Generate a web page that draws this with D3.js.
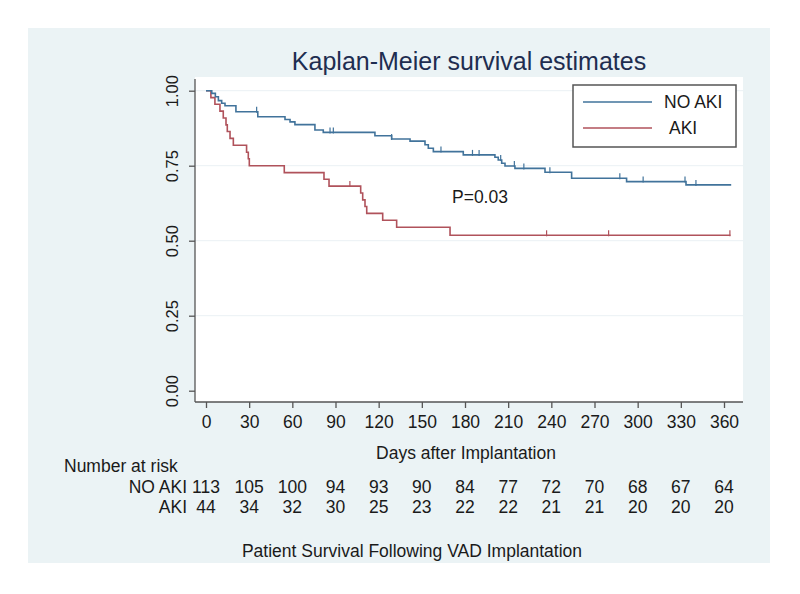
<!DOCTYPE html>
<html><head><meta charset="utf-8">
<script src="https://cdn.jsdelivr.net/npm/d3@7"></script>
<style>
html,body{margin:0;padding:0;background:#fff;}
svg{display:block;font-family:"Liberation Sans",Arial,Helvetica,sans-serif;}
</style></head><body>
<svg id="chart" width="800" height="594"></svg>
<script>
// ---- data ----
const xTicks = [0,30,60,90,120,150,180,210,240,270,300,330,360];
const yTicks = [0,0.25,0.5,0.75,1];
const yTickLabels = ["0.00","0.25","0.50","0.75","1.00"];
const seriesNames = ["NO AKI","AKI"];
// NO AKI step curve: [day, survival]
const noAkiDays = [0,4,6.5,8.6,10.9,13.2,20.8,36,54.9,58.4,61.8,75.7,81.5,117.4,129,141.8,152.2,154.5,158,178.8,200.8,203.1,205.5,207.8,214.7,235.6,254.1,292.3,333.6,365];
const noAkiSurv = [1,0.991,0.980,0.967,0.958,0.950,0.930,0.913,0.904,0.896,0.887,0.869,0.861,0.850,0.839,0.832,0.820,0.808,0.797,0.786,0.778,0.769,0.758,0.749,0.741,0.728,0.708,0.697,0.686,0.686];
const noAkiCensor = [35.2,86.2,88.5,129,163.3,185.2,189.8,204.8,214.3,220.9,239,287.6,303.8,332.9,340.5];
// AKI step curve
const akiDays = [0,3.4,6.2,9.7,12,13.9,14.8,16.7,19,28.2,29.4,30.1,54.4,82,85.5,107.5,108.9,110.5,111.7,122.8,132.5,169.6,364.5];
const akiSurv = [1,0.977,0.955,0.932,0.909,0.886,0.864,0.841,0.818,0.795,0.773,0.750,0.727,0.705,0.682,0.659,0.636,0.614,0.591,0.568,0.545,0.518,0.518];
const akiCensor = [100,236.7,279.8,364.1];
// number at risk
const riskNoAki = [113,105,100,94,93,90,84,77,72,70,68,67,64];
const riskAki = [44,34,32,30,25,23,22,22,21,21,20,20,20];

// ---- drawing ----
const svg = d3.select("#chart");
const blue = "#41739b", red = "#b0525b", axisCol = "#555", txt = "#1a1a1a";
const fs = "17.5px";

svg.append("rect").attr("x",28).attr("y",28).attr("width",742).attr("height",535).attr("fill","#ebf3f5");

const x = d3.scaleLinear().domain([0,360]).range([206,724]);
const y = d3.scaleLinear().domain([0,1]).range([390.7,90.7]);
const plotL = 195, plotR = 743, plotT = 77, plotB = 402;

svg.append("rect").attr("x",plotL).attr("y",plotT).attr("width",plotR-plotL).attr("height",plotB-plotT).attr("fill","#fff");

// grid
svg.append("g").selectAll("line").data(yTicks.filter(d=>d>0)).join("line")
  .attr("x1",plotL).attr("x2",plotR).attr("y1",d=>y(d)).attr("y2",d=>y(d))
  .attr("stroke","#eaf1f4").attr("stroke-width",1);

// axes
const yAxis = d3.axisLeft(y).tickValues(yTicks).tickFormat((d,i)=>yTickLabels[i]).tickSize(6).tickSizeOuter(0);
const gy = svg.append("g").attr("transform",`translate(${plotL},0)`).call(yAxis);
gy.select(".domain").remove();
gy.append("line").attr("x1",0).attr("x2",0).attr("y1",plotT+2).attr("y2",plotB).attr("stroke",axisCol).attr("stroke-width",1.3);
gy.selectAll(".tick line").attr("stroke",axisCol).attr("stroke-width",1.3);
gy.selectAll(".tick text").attr("fill",txt).style("font-size","16.5px")
  .attr("x",0).attr("text-anchor","middle")
  .attr("transform","translate(-23,0) rotate(-90)").attr("dy","0.35em");

const xAxis = d3.axisBottom(x).tickValues(xTicks).tickSize(6).tickSizeOuter(0);
const gx = svg.append("g").attr("transform",`translate(0,${plotB})`).call(xAxis);
gx.select(".domain").remove();
gx.append("line").attr("x1",plotL).attr("x2",plotR).attr("y1",0).attr("y2",0).attr("stroke",axisCol).attr("stroke-width",1.3);
gx.selectAll(".tick line").attr("stroke",axisCol).attr("stroke-width",1.3);
gx.selectAll(".tick text").attr("fill",txt).style("font-size",fs).attr("y",14);

// curves
const line = d3.line().x(d=>x(d[0])).y(d=>y(d[1])).curve(d3.curveStepAfter);
const noAki = noAkiDays.map((d,i)=>[d,noAkiSurv[i]]);
const aki = akiDays.map((d,i)=>[d,akiSurv[i]]);
function survAt(days,surv,t){let s=surv[0];for(let i=0;i<days.length;i++){if(days[i]<=t)s=surv[i];}return s;}

svg.append("path").datum(aki).attr("d",line).attr("fill","none").attr("stroke",red).attr("stroke-width",1.6);
svg.append("path").datum(noAki).attr("d",line).attr("fill","none").attr("stroke",blue).attr("stroke-width",1.6);

svg.append("g").selectAll("line").data(noAkiCensor).join("line")
  .attr("x1",d=>x(d)).attr("x2",d=>x(d))
  .attr("y1",d=>y(survAt(noAkiDays,noAkiSurv,d))+1).attr("y2",d=>y(survAt(noAkiDays,noAkiSurv,d))-5)
  .attr("stroke",blue).attr("stroke-width",1.2);
svg.append("g").selectAll("line").data(akiCensor).join("line")
  .attr("x1",d=>x(d)).attr("x2",d=>x(d))
  .attr("y1",d=>y(survAt(akiDays,akiSurv,d))+1).attr("y2",d=>y(survAt(akiDays,akiSurv,d))-5)
  .attr("stroke",red).attr("stroke-width",1.2);

// title
svg.append("text").attr("x",469).attr("y",70).attr("text-anchor","middle")
  .attr("fill","#1e2d50").style("font-size","25px").text("Kaplan-Meier survival estimates");

// P value
svg.append("text").attr("x",452).attr("y",203).attr("fill",txt).style("font-size",fs).text("P=0.03");

// legend
const lg = svg.append("g");
lg.append("rect").attr("x",573).attr("y",85).attr("width",163).attr("height",62)
  .attr("fill","#fff").attr("stroke","#555").attr("stroke-width",1.5);
const legendColors = [blue, red];
seriesNames.forEach((n,i)=>{
  const ly = 102 + i*26;
  lg.append("line").attr("x1",583).attr("x2",652).attr("y1",ly).attr("y2",ly).attr("stroke",legendColors[i]).attr("stroke-width",1.6);
  lg.append("text").attr("x",i===0?664:669).attr("y",ly).attr("dy","0.35em").attr("fill",txt).style("font-size",fs).text(n);
});

// x title
svg.append("text").attr("x",466).attr("y",459).attr("text-anchor","middle").attr("fill",txt).style("font-size",fs).text("Days after Implantation");

// number at risk
svg.append("text").attr("x",64).attr("y",472).attr("fill",txt).style("font-size",fs).text("Number at risk");
const rows = [riskNoAki, riskAki];
rows.forEach((r,ri)=>{
  const ry = 493 + ri*20;
  svg.append("text").attr("x",187).attr("y",ry).attr("text-anchor","end").attr("fill",txt).style("font-size",fs).text(seriesNames[ri]);
  svg.append("g").selectAll("text").data(r).join("text")
    .attr("x",(d,i)=>x(xTicks[i])).attr("y",ry).attr("text-anchor","middle").attr("fill",txt).style("font-size",fs).text(d=>d);
});

// caption
svg.append("text").attr("x",412).attr("y",557).attr("text-anchor","middle").attr("fill",txt).style("font-size",fs).text("Patient Survival Following VAD Implantation");
</script>
</body></html>
